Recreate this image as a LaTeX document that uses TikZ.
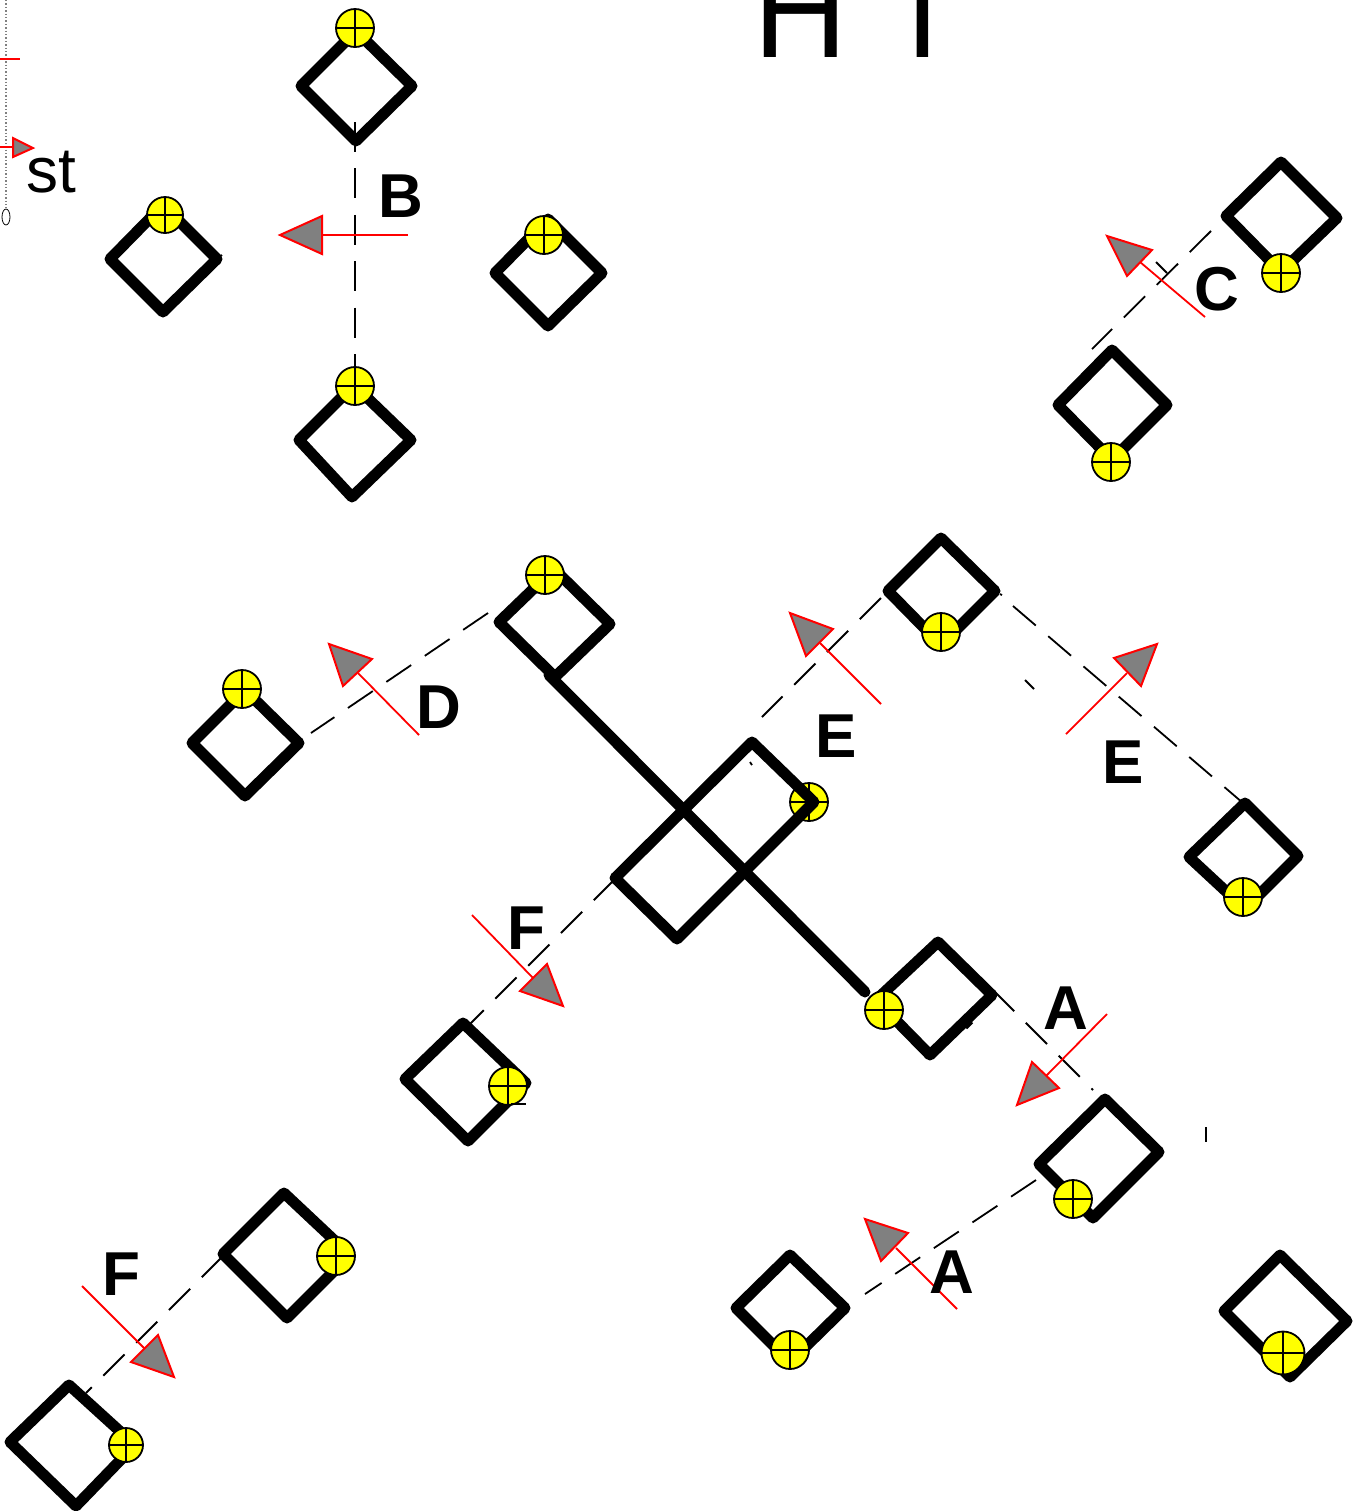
\documentclass[tikz,border=0pt]{standalone}
\usepackage{fontspec}
\setmainfont{Liberation Sans}
\usetikzlibrary{calc}
\definecolor{contactyellow}{rgb}{1,1,0}
\tikzset{
	box/.style={draw=black, line width=5.5pt, line join=round, line cap=round},
	axisline/.style={draw=black, line width=0.9pt, dash pattern=on 15pt off 8.2pt},
	cutline/.style={draw=red, line width=0.9pt},
	cuthead/.style={draw=red, fill=gray, line width=1pt, line join=miter},
	contact/.style={circle, draw=black, fill=contactyellow, line width=0.9pt, minimum size=#1, inner sep=0pt,
		path picture={
			\draw[black, line width=0.9pt] (path picture bounding box.north) -- (path picture bounding box.south);
			\draw[black, line width=0.9pt] (path picture bounding box.west) -- (path picture bounding box.east);
		}},
	contact/.default=19pt,
	cutlabel/.style={inner sep=0pt, font=\fontsize{31}{31}\selectfont\bfseries}
}
\begin{document}
\begin{tikzpicture}[x=0.5pt,y=-0.5pt]
		\useasboundingbox (0,0) rectangle (1362,1511);
		\clip (0,0) rectangle (1362,1511);
		
		% title and margin marks
		\node[anchor=base west, inner sep=0pt, font=\fontspec{TeX Gyre Heros}\fontsize{65}{65}\selectfont] (title) at (753,57) {H 1};
		\node[anchor=base west, inner sep=0pt, font=\fontsize{32}{32}\selectfont] (st) at (26,192) {st};
		\draw[gray, line width=0.7pt, densely dotted] (6,0) -- (6,208);
		\draw[black, line width=0.4pt] (6,217) ellipse (4 and 8);
		\draw[cutline] (0,59) -- (20,59);
		\draw[cutline] (0,147) -- (13,147);
		\draw[cuthead] (33,148) -- (13,138) -- (13,157) -- cycle;
		
		% section lines
		\foreach \xa/\ya/\xb/\yb in {355/122/355/382, 1211/231/1092/349, 488/613/311/733, 881/598/762/717,
			1013/606/1243/803, 615/879/470/1024, 993/990/1093/1090, 1036/1180/865/1294, 223/1256/86/1393}
			\draw[axisline] (\xa,\ya) -- (\xb,\yb);
		\foreach \xa/\ya/\xb/\yb in {1025/680/1034/689, 1206/1127/1206/1142, 750/762/752/765,
			1156/262/1167/273, 1000/594/1002/595, 218/258/222/255}
			\draw[black, line width=0.9pt] (\xa,\ya) -- (\xb,\yb);
		
		% section arrows
		\foreach \xa/\ya/\xb/\yb/\xt/\yt/\xc/\yc/\xd/\yd in {
			408/235/322/235/280/235/322/216/322/254,
			1205/317/1140/262/1107/236/1152/250/1127/276,
			419/735/358/673/329/644/372/659/343/686,
			881/704/820/643/790/613/833/629/806/656,
			1066/734/1127/673/1157/644/1141/686/1114/658,
			472/915/533/978/563/1006/520/991/547/964,
			1107/1014/1046/1076/1017/1105/1032/1062/1059/1088,
			957/1309/896/1248/865/1219/908/1233/881/1261,
			82/1286/145/1349/174/1377/131/1362/158/1335}
		{
			\draw[cutline] (\xa,\ya) -- (\xb,\yb);
			\draw[cuthead] (\xt,\yt) -- (\xc,\yc) -- (\xd,\yd) -- cycle;
		}
		
		% boxes
		\foreach \xa/\ya/\xb/\yb/\xc/\yc/\xd/\yd in {
			356/31/412/86/356/141/301/86,
			163/205/217/259/163/312/110/259,
			548/219/602/273/548/326/495/273,
			354/385/411/440/352/497/299/440,
			1281/162/1337/218/1281/272/1226/216,
			1112/350/1167/405/1112/460/1058/405,
			245/690/299/743/245/796/192/743,
			554/569/610/624/555/677/499/622,
			941/538/995/591/941/645/888/591,
			1245/803/1298/856/1245/909/1189/857,
			938/942/992/995/930/1055/876/1000,
			463/1023/526/1083/468/1141/405/1079,
			1105/1099/1159/1152/1093/1218/1039/1164,
			790/1255/845/1308/790/1362/736/1308,
			1280/1255/1347/1321/1290/1377/1224/1311,
			284/1193/350/1255/287/1318/223/1254,
			69/1385/135/1445/76/1506/10/1442}
			\draw[box] (\xa,\ya) -- (\xb,\yb) -- (\xc,\yc) -- (\xd,\yd) -- cycle;
		\draw[black, line width=3pt] (965,1027) -- (971,1021);
		
		% contacts
		\foreach \n/\x/\y in {a/355/28, c/544/235, d/355/386, e/1281/273, f/1111/462, g/242/689,
			h/545/575, i/941/632, j/1243/897, k/809/802, l/884/1010, m/508/1086, n/1073/1199, o/790/1350,
			q/336/1256}
			\node[contact] (\n) at (\x,\y) {};
		\node[contact=18pt] (b) at (165,215) {};
		\node[contact=17pt] (r) at (126,1445) {};
		\node[contact=21.5pt] (p) at (1283,1353) {};
		\draw[black, line width=0.8pt] (511,1104) -- (526,1104);
		
		% centre part
		\draw[box] (752,742) -- (814,802) -- (677,939) -- (615,878) -- cycle;
		\draw[box] (549,675) -- (865,992);
		
		\node[cutlabel] (lb) at (401,196) {B};
		\node[cutlabel] (lc) at (1217,289) {C};
		\node[cutlabel] (ld) at (439,707) {D};
		\node[cutlabel] (le) at (836,736) {E};
		\node[cutlabel] (lf) at (1123,762) {E};
		\node[cutlabel] (lg) at (526,928) {F};
		\node[cutlabel] (lh) at (1066,1008) {A};
		\node[cutlabel] (li) at (952,1272) {A};
		\node[cutlabel] (lj) at (121,1274) {F};
		
		\end{tikzpicture}
\end{document}
